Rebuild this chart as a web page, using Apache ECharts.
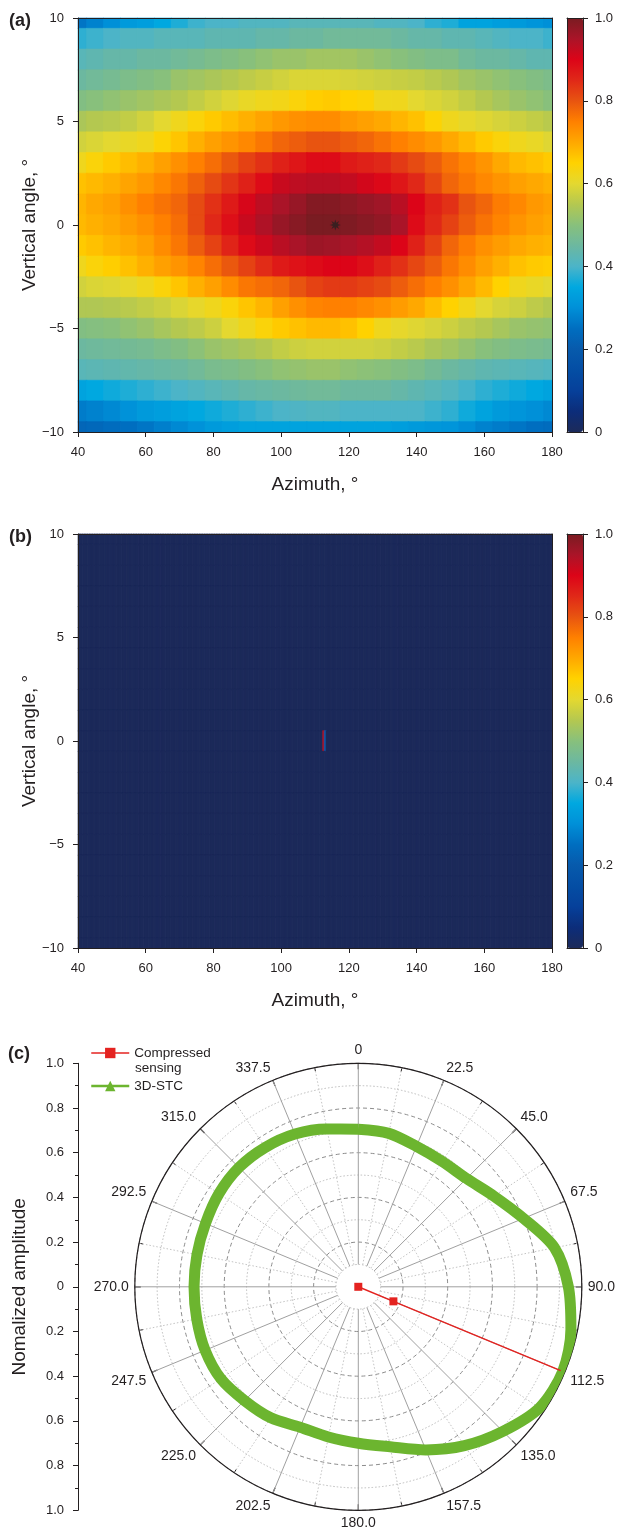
<!DOCTYPE html>
<html>
<head>
<meta charset="utf-8">
<script src="https://cdn.jsdelivr.net/npm/echarts@6/dist/echarts.min.js"></script>
<style>
html,body{margin:0;padding:0;background:#fff;}
#chart{width:617px;height:1531px;}
</style>
</head>
<body>
<div id="chart"></div>
<script>
// ---------------- data ----------------
const azimuthA = [40,45,50,55,60,65,70,75,80,85,90,95,100,105,110,115,120,125,130,135,140,145,150,155,160,165,170,175,180];
const elevation = [10,9,8,7,6,5,4,3,2,1,0,-1,-2,-3,-4,-5,-6,-7,-8,-9,-10];
// panel (a): normalized intensity, one row per elevation (10 ... -10), columns per azimuthA
const intensityA = [
 [0.26,0.28,0.30,0.32,0.33,0.35,0.37,0.39,0.40,0.40,0.41,0.41,0.41,0.42,0.42,0.42,0.42,0.42,0.41,0.41,0.40,0.38,0.37,0.34,0.34,0.33,0.32,0.31,0.30],
 [0.38,0.39,0.40,0.41,0.41,0.42,0.42,0.42,0.43,0.43,0.43,0.44,0.44,0.45,0.45,0.46,0.46,0.46,0.46,0.45,0.44,0.44,0.43,0.43,0.42,0.41,0.40,0.40,0.39],
 [0.42,0.43,0.44,0.44,0.45,0.45,0.46,0.47,0.48,0.49,0.50,0.51,0.52,0.52,0.53,0.53,0.53,0.52,0.51,0.50,0.49,0.48,0.48,0.46,0.45,0.45,0.44,0.43,0.43],
 [0.45,0.46,0.47,0.48,0.49,0.50,0.52,0.53,0.54,0.55,0.56,0.57,0.58,0.59,0.59,0.59,0.585,0.58,0.575,0.57,0.565,0.555,0.545,0.53,0.52,0.51,0.50,0.49,0.48],
 [0.49,0.50,0.51,0.52,0.53,0.54,0.55,0.565,0.58,0.595,0.61,0.62,0.625,0.64,0.655,0.66,0.65,0.645,0.62,0.62,0.60,0.59,0.58,0.565,0.55,0.535,0.52,0.51,0.50],
 [0.54,0.55,0.555,0.565,0.58,0.60,0.62,0.64,0.66,0.675,0.69,0.705,0.72,0.73,0.735,0.735,0.72,0.71,0.70,0.685,0.67,0.645,0.62,0.605,0.595,0.585,0.575,0.565,0.555],
 [0.58,0.59,0.60,0.61,0.62,0.645,0.665,0.69,0.71,0.725,0.74,0.76,0.78,0.79,0.80,0.80,0.79,0.78,0.765,0.75,0.735,0.72,0.70,0.68,0.66,0.64,0.62,0.61,0.595],
 [0.62,0.64,0.66,0.675,0.69,0.71,0.73,0.75,0.77,0.795,0.82,0.84,0.86,0.875,0.89,0.89,0.87,0.86,0.85,0.83,0.81,0.79,0.765,0.745,0.725,0.70,0.68,0.67,0.66],
 [0.67,0.68,0.69,0.705,0.72,0.74,0.76,0.785,0.81,0.835,0.86,0.89,0.92,0.93,0.935,0.935,0.925,0.91,0.895,0.875,0.85,0.815,0.78,0.76,0.74,0.725,0.71,0.70,0.69],
 [0.685,0.70,0.71,0.73,0.75,0.765,0.78,0.81,0.84,0.87,0.905,0.93,0.95,0.97,0.99,0.99,0.98,0.97,0.96,0.935,0.90,0.86,0.84,0.80,0.78,0.755,0.74,0.72,0.71],
 [0.68,0.69,0.70,0.715,0.73,0.75,0.77,0.81,0.85,0.885,0.92,0.945,0.97,0.985,1.0,1.0,0.995,0.985,0.975,0.95,0.89,0.85,0.82,0.79,0.765,0.745,0.725,0.71,0.70],
 [0.66,0.67,0.685,0.695,0.71,0.735,0.76,0.79,0.82,0.855,0.89,0.915,0.935,0.95,0.965,0.96,0.95,0.94,0.925,0.90,0.86,0.82,0.78,0.755,0.73,0.715,0.70,0.69,0.685],
 [0.62,0.64,0.655,0.67,0.69,0.71,0.725,0.745,0.77,0.795,0.82,0.845,0.87,0.88,0.89,0.90,0.90,0.885,0.86,0.84,0.815,0.79,0.76,0.735,0.71,0.69,0.67,0.66,0.655],
 [0.58,0.59,0.595,0.605,0.62,0.64,0.665,0.69,0.71,0.735,0.76,0.77,0.78,0.80,0.82,0.83,0.83,0.82,0.81,0.79,0.77,0.75,0.73,0.705,0.68,0.65,0.62,0.61,0.60],
 [0.545,0.545,0.55,0.555,0.565,0.575,0.59,0.605,0.62,0.64,0.665,0.685,0.71,0.73,0.745,0.75,0.75,0.74,0.73,0.715,0.70,0.675,0.65,0.625,0.60,0.585,0.575,0.56,0.55],
 [0.49,0.495,0.50,0.51,0.52,0.535,0.55,0.56,0.575,0.60,0.62,0.64,0.66,0.67,0.68,0.68,0.67,0.65,0.62,0.605,0.595,0.585,0.575,0.56,0.55,0.535,0.52,0.515,0.51],
 [0.45,0.455,0.46,0.465,0.47,0.48,0.49,0.505,0.52,0.53,0.54,0.55,0.565,0.575,0.58,0.58,0.58,0.58,0.575,0.565,0.555,0.54,0.53,0.515,0.50,0.49,0.48,0.475,0.47],
 [0.42,0.425,0.43,0.435,0.44,0.445,0.45,0.46,0.475,0.48,0.49,0.50,0.51,0.515,0.52,0.52,0.51,0.505,0.50,0.49,0.48,0.465,0.45,0.44,0.43,0.425,0.42,0.415,0.41],
 [0.34,0.35,0.36,0.37,0.38,0.39,0.40,0.41,0.42,0.43,0.44,0.445,0.45,0.455,0.46,0.46,0.45,0.45,0.45,0.44,0.43,0.42,0.41,0.395,0.38,0.37,0.36,0.35,0.34],
 [0.27,0.28,0.29,0.305,0.32,0.33,0.34,0.35,0.36,0.37,0.38,0.39,0.40,0.405,0.41,0.41,0.40,0.40,0.40,0.40,0.40,0.39,0.38,0.36,0.34,0.32,0.31,0.30,0.29],
 [0.23,0.235,0.245,0.25,0.26,0.275,0.29,0.305,0.32,0.33,0.34,0.34,0.34,0.34,0.34,0.34,0.34,0.34,0.34,0.33,0.32,0.315,0.31,0.295,0.28,0.27,0.26,0.25,0.245]
];
// estimated peak position marked in (a)
const peakA = [[116, 0]];

// panel (b): sparse result; every cell is 0 except these [azimuth, elevation, value]
const azimuthStepB = 0.5;
const peakCellsB = [[112.5, 0, 0.95], [113, 0, 0.2]];

// panel (c)
const stcAngle = [0,11.25,22.5,33.75,45,56.25,67.5,78.75,90,101.25,112.5,123.75,135,146.25,157.5,168.75,180,191.25,202.5,213.75,225,236.25,247.5,258.75,270,281.25,292.5,303.75,315,326.25,337.5,348.75,360];
const stcRadius = [0.705,0.70,0.68,0.675,0.685,0.73,0.80,0.895,0.94,0.97,0.99,0.975,0.915,0.855,0.79,0.73,0.70,0.685,0.68,0.705,0.72,0.74,0.742,0.737,0.735,0.736,0.74,0.75,0.755,0.75,0.74,0.72,0.705];
const csAngle = [112.5, 112.5, 112.5];
const csRadius = [0, 0.17, 0.98];

// tick label sets
const colorTicks = [0, 0.2, 0.4, 0.6, 0.8, 1.0];

// ---------------- build ----------------
const dataA = [];
elevation.forEach((el, i) => azimuthA.forEach((az, j) => dataA.push([az, el, intensityA[i][j]])));
const azimuthB = [];
for (let a = 40; a <= 180 + 1e-9; a += azimuthStepB) azimuthB.push(a);
const dataB = [];
elevation.forEach(el => azimuthB.forEach(az => {
  const p = peakCellsB.find(c => Math.abs(c[0] - az) < 1e-6 && c[1] === el);
  dataB.push([az, el, p ? p[2] : 0]);
}));

const FONT = '"Liberation Sans", Arial, sans-serif';
const TXT = '#231f20';
const palette = ['#1c2a5a','#0c2d7a','#06409a','#044ea4','#075aac','#006ec0','#0090d8','#00a8e0','#4cb4c8','#6cb8a0','#88c07c','#b4c850','#e4d830','#ffd200','#ffa800','#ff8000','#e85410','#e02818','#dc0418','#aa1428','#7a1c22'];

const makeRender = (dAz, dEl) => (params, api) => {
  const c = api.coord([api.value(0), api.value(1)]);
  const s = api.size([dAz, dEl]);
  const cs = params.coordSys;
  const rect = echarts.graphic.clipRectByRect(
    {x: c[0] - s[0] / 2, y: c[1] - s[1] / 2, width: s[0] + 0.6, height: s[1] + 0.6},
    {x: cs.x, y: cs.y, width: cs.width, height: cs.height});
  const col = api.visual('color');
  return rect && {type: 'rect', shape: rect, style: {fill: col, stroke: col, lineWidth: 0.6}};
};

const minus = v => String(v).replace('-', '\u2212');
const lineSt = {color: TXT, width: 1};

function mainX(grid, name) {
  return {type: 'value', gridIndex: grid, min: 40, max: 180, interval: 20, z: 5,
    axisLine: {show: true, onZero: false, lineStyle: lineSt},
    axisTick: {show: true, length: 5, lineStyle: lineSt},
    axisLabel: {fontSize: 13, color: TXT, fontFamily: FONT, margin: 14},
    splitLine: {show: false},
    name: name, nameLocation: 'middle', nameGap: 43, nameMoveOverlap: false,
    nameTextStyle: {fontSize: 19, color: TXT, fontFamily: FONT}};
}
function frameAxis(type, grid, pos, min, max) {
  return {type: 'value', gridIndex: grid, position: pos, min: min, max: max, z: 5,
    axisLine: {show: true, onZero: false, lineStyle: lineSt},
    axisTick: {show: false}, axisLabel: {show: false}, splitLine: {show: false}};
}
function mainY(grid, name) {
  return {type: 'value', gridIndex: grid, min: -10, max: 10, interval: 5, z: 5,
    axisLine: {show: true, onZero: false, lineStyle: lineSt},
    axisTick: {show: true, length: 5, lineStyle: lineSt},
    axisLabel: {fontSize: 13, color: TXT, fontFamily: FONT, margin: 14, formatter: minus},
    splitLine: {show: false},
    name: name, nameLocation: 'middle', nameGap: 39, nameRotate: 90, nameMoveOverlap: false,
    nameTextStyle: {fontSize: 19, color: TXT, fontFamily: FONT}};
}
function barY(grid) {
  return {type: 'value', gridIndex: grid, position: 'right', min: 0, max: 1, interval: 0.2, z: 6,
    axisLine: {show: true, onZero: false, lineStyle: lineSt},
    axisTick: {show: true, length: 5, lineStyle: lineSt},
    axisLabel: {fontSize: 13, color: TXT, fontFamily: FONT, margin: 12,
      formatter: v => colorTicks.includes(v) ? (v === 0 ? '0' : v.toFixed(1)) : ''},
    splitLine: {show: false}};
}

const R = 223.5, CX = 358.3, CY = 1286.8;

const option = {
  animation: false,
  backgroundColor: '#fff',
  textStyle: {fontFamily: FONT},
  grid: [
    {left: 78, top: 18, width: 474, height: 414},
    {left: 78, top: 534, width: 474, height: 414},
    {left: 567, top: 18, width: 16, height: 414},
    {left: 567, top: 534, width: 16, height: 414},
    {left: 78, top: CY - R, width: 1, height: 2 * R}
  ],
  xAxis: [
    mainX(0, 'Azimuth, °'), frameAxis('x', 0, 'top', 40, 180),
    mainX(1, 'Azimuth, °'), frameAxis('x', 1, 'top', 40, 180),
    frameAxis('x', 2, 'bottom', 0, 1), frameAxis('x', 2, 'top', 0, 1),
    frameAxis('x', 3, 'bottom', 0, 1), frameAxis('x', 3, 'top', 0, 1),
    {type: 'value', gridIndex: 4, show: false, min: 0, max: 1}
  ],
  yAxis: [
    mainY(0, 'Vertical angle, °'), frameAxis('y', 0, 'right', -10, 10),
    mainY(1, 'Vertical angle, °'), frameAxis('y', 1, 'right', -10, 10),
    barY(2), frameAxis('y', 2, 'left', 0, 1),
    barY(3), frameAxis('y', 3, 'left', 0, 1),
    {type: 'value', gridIndex: 4, min: -1, max: 1, interval: 0.2, z: 5,
      axisLine: {show: true, onZero: false, lineStyle: lineSt},
      axisTick: {show: true, length: 5, lineStyle: lineSt},
      minorTick: {show: true, splitNumber: 2, length: 3, lineStyle: lineSt},
      axisLabel: {fontSize: 13, color: TXT, fontFamily: FONT, margin: 14,
        formatter: v => Math.abs(v) < 1e-9 ? '0' : Math.abs(v).toFixed(1)},
      splitLine: {show: false},
      name: 'Nomalized amplitude', nameLocation: 'middle', nameGap: 49, nameRotate: 90, nameMoveOverlap: false,
      nameTextStyle: {fontSize: 19, color: TXT, fontFamily: FONT}}
  ],
  visualMap: [
    {type: 'continuous', min: 0, max: 1, dimension: 2, seriesIndex: 0, calculable: false, hoverLink: false,
      orient: 'vertical', left: 567, top: 18, itemWidth: 16, itemHeight: 414, padding: 0, z: 1,
      inRange: {color: palette}, text: null, showLabel: false},
    {type: 'continuous', min: 0, max: 1, dimension: 2, seriesIndex: 2, calculable: false, hoverLink: false,
      orient: 'vertical', left: 567, top: 534, itemWidth: 16, itemHeight: 414, padding: 0, z: 1,
      inRange: {color: palette}, text: null, showLabel: false}
  ],
  polar: [
    {center: [CX, CY], radius: [0, R]},
    {center: [CX, CY], radius: [R * 0.1, R]}
  ],
  radiusAxis: [
    {polarIndex: 0, type: 'value', min: 0, max: 1, interval: 0.2, z: 0,
      axisLine: {show: false}, axisTick: {show: false}, axisLabel: {show: false},
      minorTick: {show: false, splitNumber: 2},
      splitLine: {show: true, lineStyle: {color: '#8c8c8c', width: 1, type: [4, 3]}},
      minorSplitLine: {show: true, lineStyle: {color: '#bdbdbd', width: 1, type: [1.5, 2]}}},
    {polarIndex: 1, type: 'value', min: 0.1, max: 1, show: false}
  ],
  angleAxis: [
    {polarIndex: 0, type: 'value', min: 0, max: 360, startAngle: 90, clockwise: true, z: 1,
      axisLine: {show: true, lineStyle: {color: TXT, width: 1.2}},
      axisTick: {show: false}, axisLabel: {show: false}, splitLine: {show: false}},
    {polarIndex: 1, type: 'value', min: 0, max: 360, interval: 22.5, startAngle: 90, clockwise: true, z: 1,
      axisLine: {show: false},
      axisTick: {show: true, inside: true, length: 6, lineStyle: {color: TXT, width: 1.2}},
      minorTick: {show: true, splitNumber: 2, length: 4, lineStyle: {color: TXT, width: 1}},
      axisLabel: {fontSize: 14, color: TXT, fontFamily: FONT, margin: 6,
        formatter: v => v === 0 ? '0' : (v >= 360 ? '' : v.toFixed(1))},
      splitLine: {show: true, lineStyle: {color: '#a0a0a0', width: 1}},
      minorSplitLine: {show: true, lineStyle: {color: '#c4c4c4', width: 1, type: [1.5, 2]}}}
  ],
  legend: {
    orient: 'vertical', left: 90, top: 1046, itemWidth: 38, itemHeight: 13, itemGap: 19,
    padding: 0,
    textStyle: {fontSize: 13.5, color: TXT, fontFamily: FONT},
    formatter: n => n === 'Compressed sensing' ? 'Compressed' : n,
    data: [
      {name: 'Compressed sensing', lineStyle: {width: 1.5}},
      {name: '3D-STC', lineStyle: {width: 2.5}}
    ]
  },
  graphic: [
    {type: 'text', left: 9, top: 12, style: {text: '(a)', font: 'bold 18px ' + FONT, fill: TXT}},
    {type: 'text', left: 9, top: 528, style: {text: '(b)', font: 'bold 18px ' + FONT, fill: TXT}},
    {type: 'text', left: 8, top: 1045, style: {text: '(c)', font: 'bold 18px ' + FONT, fill: TXT}},
    {type: 'text', left: 135, top: 1061, style: {text: 'sensing', font: '13.5px ' + FONT, fill: TXT}}
  ],
  series: [
    {type: 'custom', name: 'A', xAxisIndex: 0, yAxisIndex: 0, coordinateSystem: 'cartesian2d',
      renderItem: makeRender(azimuthA[1] - azimuthA[0], elevation[0] - elevation[1]),
      dimensions: ['az', 'el', 'v'], encode: {x: 0, y: 1}, data: dataA, silent: true},
    {type: 'scatter', name: 'peak', xAxisIndex: 0, yAxisIndex: 0, data: peakA, z: 4,
      symbol: 'path://M0,-10L1.8,-4.3L7.1,-7.1L4.3,-1.8L10,0L4.3,1.8L7.1,7.1L1.8,4.3L0,10L-1.8,4.3L-7.1,7.1L-4.3,1.8L-10,0L-4.3,-1.8L-7.1,-7.1L-1.8,-4.3Z',
      symbolSize: 11, itemStyle: {color: '#2a2020'}, silent: true},
    {type: 'custom', name: 'B', xAxisIndex: 2, yAxisIndex: 2, coordinateSystem: 'cartesian2d',
      renderItem: makeRender(azimuthStepB, elevation[0] - elevation[1]),
      dimensions: ['az', 'el', 'v'], encode: {x: 0, y: 1}, data: dataB, silent: true},
    {type: 'line', name: '3D-STC', coordinateSystem: 'polar', polarIndex: 0, clip: false,
      data: stcRadius.map((r, i) => [r, stcAngle[i]]), smooth: 0.3,
      symbol: 'triangle', showSymbol: false, symbolSize: 10,
      lineStyle: {color: '#6cb52f', width: 11}, itemStyle: {color: '#6cb52f'}, z: 2, silent: true},
    {type: 'line', name: 'Compressed sensing', coordinateSystem: 'polar', polarIndex: 0, clip: false,
      data: csRadius.map((r, i) => (i === csRadius.length - 1 ? {value: [r, csAngle[i]], symbol: 'none'} : [r, csAngle[i]])),
      symbol: 'rect', symbolSize: 8, showSymbol: true,
      lineStyle: {color: '#e42320', width: 1.5}, itemStyle: {color: '#e42320'}, z: 3, silent: true}
  ]
};

const chart = echarts.init(document.getElementById('chart'), null, {renderer: 'canvas'});
chart.setOption(option);
</script>
</body>
</html>
